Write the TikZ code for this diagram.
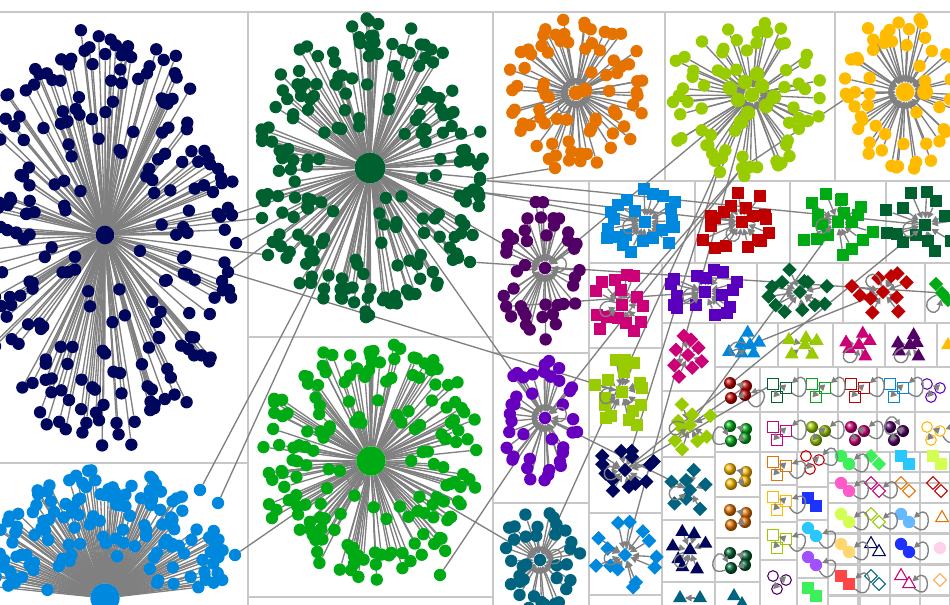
\documentclass[tikz,border=0pt]{standalone}
\usetikzlibrary{arrows.meta,shapes.geometric}
\definecolor{NavyDot}{RGB}{0,6,92}
\definecolor{PineDot}{RGB}{0,96,48}
\definecolor{LeafDot}{RGB}{0,170,20}
\definecolor{SkyDot}{RGB}{0,136,222}
\definecolor{OrangeDot}{RGB}{230,115,0}
\definecolor{LimeDot}{RGB}{153,204,0}
\definecolor{GoldDot}{RGB}{255,187,0}
\definecolor{PlumDot}{RGB}{82,0,102}
\definecolor{VioletDot}{RGB}{102,0,190}
\definecolor{TealDot}{RGB}{0,100,128}
\definecolor{RedDot}{RGB}{192,0,0}
\definecolor{MagentaDot}{RGB}{204,0,119}
\definecolor{IndigoDot}{RGB}{88,0,190}
\definecolor{PinkDot}{RGB}{255,90,200}
\definecolor{CyanDot}{RGB}{40,200,255}
\definecolor{BlueDot}{RGB}{30,50,255}
\definecolor{MintDot}{RGB}{60,240,90}
\definecolor{LightLime}{RGB}{210,255,80}
\definecolor{SandDot}{RGB}{255,215,110}
\definecolor{LavDot}{RGB}{160,80,255}
\definecolor{SalmonDot}{RGB}{255,70,70}
\definecolor{PaleBlue}{RGB}{100,185,255}
\definecolor{BlushDot}{RGB}{255,210,235}
\definecolor{PeachDot}{RGB}{255,170,80}
\definecolor{EdgeGray}{RGB}{128,128,128}
\definecolor{GridGray}{RGB}{200,200,200}
\pgfdeclarelayer{bg}
\pgfsetlayers{bg,main}
\tikzset{
  dot/.style={circle,inner sep=0pt,minimum size=9.3pt,fill=#1},
  sq/.style={rectangle,inner sep=0pt,minimum size=9pt,fill=#1},
  dia/.style={diamond,inner sep=0pt,minimum size=11pt,fill=#1},
  tri/.style={regular polygon,regular polygon sides=3,inner sep=0pt,minimum size=12pt,fill=#1},
  ball/.style={circle,inner sep=0pt,minimum size=9pt,ball color=#1},
  osq/.style={rectangle,inner sep=0pt,minimum size=8pt,draw=#1,line width=0.8pt},
  ocirc/.style={circle,inner sep=0pt,minimum size=8pt,draw=#1,line width=0.8pt},
  odia/.style={diamond,inner sep=0pt,minimum size=10pt,draw=#1,line width=0.8pt},
  otri/.style={regular polygon,regular polygon sides=3,inner sep=0pt,minimum size=11pt,draw=#1,line width=0.8pt},
  link/.style={draw=EdgeGray,line width=1pt},
  arr/.style={link,-{Triangle[length=5pt,width=5pt]}},
  selfloop/.style={link,-{Triangle[length=4.5pt,width=4.5pt]},min distance=18pt},
  cell/.style={draw=GridGray,line width=0.8pt}
}
% nodes spread round hub (#1h): name, cx, cy, rx, ry, count, node style, seed
\newcommand{\blob}[8]{%
  \pgfmathsetseed{#8}%
  \foreach \i in {1,...,#6}{%
    \pgfmathsetmacro{\ang}{360*mod(\i*0.381966,1)+16*rnd}%
    \pgfmathsetmacro{\rr}{0.18+0.82*rnd^0.42}%
    \node[#7] (#1\i) at ({#2+#4*\rr*cos(\ang)},{#3+#5*\rr*sin(\ang)}) {};%
  }%
}
% spokes from every node of a group to its hub
\newcommand{\spokes}[3]{%
  \foreach \i in {1,...,#2} \draw[#3] (#1\i) -- (#1h);}
% small groups of two, three and four
\newcommand{\twin}[4]{%
  \node[#4] (#1a) at (#2-4,#3-4) {};
  \node[#4] (#1b) at (#2+4,#3+4) {};}
\newcommand{\trio}[4]{%
  \node[#4] (#1a) at (#2-6,#3-6) {};
  \node[#4] (#1b) at (#2+7,#3-2) {};
  \node[#4] (#1c) at (#2-2,#3+7) {};
  \draw[arr] (#1b) -- (#1a);
  \draw[arr] (#1c) -- (#1a);}
\newcommand{\quartet}[4]{%
  \node[#4] (#1a) at (#2-8,#3-7) {};
  \node[#4] (#1b) at (#2+8,#3-4) {};
  \node[#4] (#1c) at (#2-7,#3+8) {};
  \node[#4] (#1d) at (#2+7,#3+5) {};
  \draw[arr] (#1b) -- (#1a);
  \draw[arr] (#1d) -- (#1c);}

\begin{document}
\begin{tikzpicture}[x=0.75pt,y=-0.75pt]
\useasboundingbox (0,0) rectangle (950,604);

% big stars
\node[dot=NavyDot,minimum size=14pt] (nvh) at (105,235) {};
\blob{nv}{105}{235}{132}{214}{230}{dot=NavyDot}{11}
\node[dot=PineDot,minimum size=23pt] (pnh) at (370,168) {};
\blob{pn}{370}{168}{115}{150}{200}{dot=PineDot}{23}
\node[dot=LeafDot,minimum size=22pt] (lfh) at (371,461) {};
\blob{lf}{371}{461}{115}{120}{170}{dot=LeafDot}{37}
\node[dot=SkyDot,minimum size=22pt] (skh) at (105,598) {};
\pgfmathsetseed{41}
\foreach \i in {1,...,140}{
  \pgfmathsetmacro{\ang}{185+170*mod(\i*0.618034,1)}
  \pgfmathsetmacro{\rr}{0.3+0.7*rnd^0.5}
  \node[dot=SkyDot] (sk\i) at ({105+128*\rr*cos(\ang)},{598+130*\rr*sin(\ang)}) {};
}

% medium stars
\node[dot=OrangeDot,minimum size=11pt] (orh) at (576,93) {};
\node[dot=OrangeDot,minimum size=11pt] (or0) at (585,90) {};
\blob{or}{578}{93}{72}{75}{75}{dot=OrangeDot}{53}
\node[dot=LimeDot,minimum size=11pt] (lmh) at (752,95) {};
\foreach \p [count=\k] in {(745,82),(762,86),(738,100),(748,113),(766,106),(741,122),(774,97),(757,74),(730,88)}
  \node[dot=LimeDot,minimum size=11pt] (lmc\k) at \p {};
\blob{lm}{745}{100}{80}{80}{62}{dot=LimeDot}{61}
\node[dot=GoldDot,minimum size=14pt] (gdh) at (905,92) {};
\node[dot=GoldDot,minimum size=12pt] (gd0) at (925,92) {};
\blob{gd}{900}{92}{65}{80}{55}{dot=GoldDot}{71}
\node[dot=PlumDot] (plh) at (545,268) {};
\blob{pl}{540}{270}{40}{75}{40}{dot=PlumDot}{83}
\node[dot=VioletDot] (vih) at (545,418) {};
\blob{vi}{540}{420}{38}{62}{38}{dot=VioletDot}{89}
\node[dot=TealDot] (tlh) at (540,560) {};
\blob{tl}{540}{560}{42}{52}{35}{dot=TealDot}{97}

% square, diamond and triangle groups
\node[sq=SkyDot] (bsh) at (645,222) {};
\blob{bs}{641}{222}{45}{34}{22}{sq=SkyDot}{101}
\node[sq=RedDot] (rsh) at (742,222) {};
\blob{rs}{740}{222}{44}{34}{18}{sq=RedDot}{103}
\node[sq=LeafDot] (gsh) at (838,222) {};
\blob{gs}{838}{222}{44}{34}{18}{sq=LeafDot}{107}
\node[sq=PineDot] (dsh) at (925,225) {};
\blob{ds}{922}{222}{38}{34}{14}{sq=PineDot}{109}
\node[sq=MagentaDot] (msh) at (622,305) {};
\blob{ms}{622}{305}{30}{38}{15}{sq=MagentaDot}{113}
\node[sq=IndigoDot] (ish) at (705,292) {};
\blob{is}{706}{292}{42}{24}{16}{sq=IndigoDot}{127}
\node[dia=PineDot] (pdh) at (800,292) {};
\blob{pd}{800}{292}{36}{24}{12}{dia=PineDot}{131}
\node[dia=RedDot] (rdh) at (883,292) {};
\blob{rd}{883}{292}{34}{24}{10}{dia=RedDot}{137}
\node[dia=LeafDot] (gdd) at (942,293) {};
\node[dia=LeafDot] (gdd1) at (936,284) {};
\node[dia=LeafDot] (gdd2) at (948,300) {};
\node[sq=LimeDot] (lsh) at (622,392) {};
\blob{ls}{622}{392}{30}{38}{16}{sq=LimeDot}{139}
\node[dia=MagentaDot] (mdh) at (688,355) {};
\blob{md}{688}{355}{20}{25}{8}{dia=MagentaDot}{149}
\node[dia=LimeDot] (ldh) at (690,425) {};
\blob{ld}{690}{425}{22}{27}{9}{dia=LimeDot}{151}
\node[dia=NavyDot] (ndh) at (625,470) {};
\blob{nd}{625}{470}{30}{30}{13}{dia=NavyDot}{157}
\node[dia=SkyDot] (bdh) at (625,555) {};
\blob{bd}{625}{555}{32}{34}{13}{dia=SkyDot}{163}
\node[dia=TealDot] (tdh) at (690,490) {};
\blob{td}{690}{490}{20}{22}{7}{dia=TealDot}{167}
\node[tri=NavyDot] (nth) at (690,550) {};
\blob{nt}{690}{550}{20}{22}{7}{tri=NavyDot}{173}
\node[tri=TealDot] (tth) at (680,598) {};
\node[tri=TealDot] (tt1) at (700,598) {};
\node[tri=SkyDot] (bth) at (750,345) {};
\blob{bt}{746}{345}{22}{14}{6}{tri=SkyDot}{179}
\node[tri=LimeDot] (lth) at (805,345) {};
\blob{lt}{805}{345}{18}{14}{5}{tri=LimeDot}{181}
\node[tri=MagentaDot] (mth) at (859,345) {};
\blob{mt}{859}{345}{18}{14}{5}{tri=MagentaDot}{191}
\node[tri=PlumDot] (pth) at (910,345) {};
\blob{pt}{910}{345}{18}{14}{5}{tri=PlumDot}{193}
\node[tri=GoldDot] (oth) at (948,345) {};

% little groups
\quartet{rb}{738}{390}{ball=RedDot}
\trio{gq}{779}{390}{osq=PineDot}
\trio{lq}{818}{390}{osq=LeafDot}
\trio{rq}{857}{390}{osq=RedDot}
\trio{bq}{896}{390}{osq=SkyDot}
\trio{vc}{933}{390}{ocirc=VioletDot}
\quartet{gb}{738}{433}{ball=LeafDot}
\trio{mq}{779}{433}{osq=MagentaDot}
\trio{yb}{818}{433}{ball=LimeDot}
\trio{mb}{857}{433}{ball=MagentaDot}
\trio{pb}{896}{433}{ball=PlumDot}
\trio{oc}{933}{433}{ocirc=GoldDot}
\quartet{ob}{738}{476}{ball=GoldDot}
\quartet{ab}{738}{517}{ball=OrangeDot}
\quartet{db}{738}{560}{ball=PineDot}
\twin{tt}{738}{600}{tri=TealDot}
\trio{oq}{779}{468}{osq=OrangeDot}
\trio{yq}{779}{503}{osq=GoldDot}
\trio{lq2}{779}{541}{osq=LimeDot}
\trio{pc}{779}{582}{ocirc=PlumDot}
\trio{rc}{812}{462}{ocirc=RedDot}
\twin{bbx}{812}{502}{sq=BlueDot}
\twin{cb}{812}{532}{dot=CyanDot}
\twin{lb}{812}{561}{dot=LavDot}
\twin{ms2}{812}{592}{sq=MintDot}
\twin{mn}{845}{460}{dot=MintDot}
\twin{pk}{845}{487}{dot=PinkDot}
\twin{ll}{845}{518}{dot=LightLime}
\twin{sd}{845}{548}{dot=SandDot}
\twin{sm}{845}{580}{sq=SalmonDot}
\twin{md2}{875}{460}{dia=MintDot}
\twin{mo}{875}{487}{odia=MagentaDot}
\twin{lo}{875}{518}{odia=LimeDot}
\twin{no}{875}{548}{otri=NavyDot}
\twin{to}{875}{580}{odia=TealDot}
\twin{cs}{905}{460}{sq=CyanDot}
\twin{oo}{905}{487}{odia=OrangeDot}
\twin{pbl}{905}{518}{dot=PaleBlue}
\twin{bl}{905}{548}{dot=BlueDot}
\twin{mtr}{905}{580}{otri=MagentaDot}
\twin{lsq}{937}{460}{sq=LightLime}
\twin{ro}{937}{487}{odia=RedDot}
\node[otri=OrangeDot] (ot1) at (942,518) {};
\node[dot=BlushDot] (bh1) at (940,548) {};
\node[odia=PeachDot] (po1) at (940,580) {};

% self loops
\foreach \n/\o/\j in {gqb/-40/40, lqb/-40/40, rqb/-40/40, bqb/-40/40, mqb/-40/40, ybb/-40/40,
    mbb/-40/40, pbb/200/120, ocb/-60/20, oqb/-60/20, yqb/-60/20, lq2b/-60/20, rcb/-30/50,
    cbb/-60/20, lbb/-60/20, mnb/-40/40, pkb/-40/40, llb/-40/40, sdb/-40/40, smb/-40/40,
    mob/-40/40, lob/-40/40, blb/-40/40, pblb/-40/40, mtrb/-40/40, rbd/-60/20, gbc/200/120,
    dbc/200/120, bsh/160/220, rsh/200/260, gsh/160/220, dsh/160/220, ish/160/220,
    msh/160/220, lsh/160/220, ldh/160/220, bth/160/220, pth/200/260, rdh/100/160,
    gdd/200/260, ndh/160/220, bdh/160/220, nth/200/260, tdh/160/220, mth/200/260,
    plh/-20/40, vih/-20/40, tlh/-20/40, lfh/200/250, orh/200/250}
  \draw[selfloop] (\n) to[out=\o,in=\j] (\n);

% nodes that carry lines between groups
\node[dot=NavyDot] (nvb1) at (232,215) {};
\node[dot=NavyDot] (nvb2) at (236,243) {};
\node[dot=NavyDot] (nvb3) at (228,272) {};
\node[dot=PineDot] (pnb1) at (262,218) {};
\node[dot=PineDot] (pnb2) at (268,255) {};
\node[dot=PineDot] (pnb3) at (480,180) {};
\node[dot=PineDot] (pnb4) at (478,192) {};
\node[dot=PineDot] (pnb5) at (470,262) {};
\node[dot=OrangeDot] (orb1) at (555,168) {};
\node[dot=LimeDot] (lmb1) at (742,168) {};
\node[dot=LimeDot] (lmb2) at (722,158) {};
\node[dot=GoldDot] (gdb1) at (848,97) {};
\node[dot=SkyDot] (skb1) at (200,490) {};
\node[dot=SkyDot] (skb2) at (218,503) {};
\node[dot=SkyDot] (skb3) at (235,555) {};
\node[dot=LeafDot] (lfb1) at (440,575) {};

\begin{pgfonlayer}{bg}
  \fill[white] (0,0) rectangle (950,604);
  % grid of groups
  \draw[cell] (-5,12) -- (955,12);
  \foreach \a/\b/\c/\d in {-5/12/248/463, -5/463/248/610, 248/12/493/337, 248/337/493/597,
      493/12/665/181, 665/12/835/181, 835/12/955/181,
      493/181/589/353, 493/353/589/503, 493/503/589/610,
      589/181/695/263, 695/181/790/263, 790/181/886/263, 886/181/955/263,
      589/263/662/348, 662/263/757/323, 757/263/843/323, 843/263/925/323, 925/263/955/323,
      589/348/662/437, 662/323/715/391, 662/391/715/457, 589/437/662/513, 589/513/662/595,
      662/457/715/520, 662/520/715/582, 662/582/715/610,
      715/323/778/367, 778/323/833/367, 833/323/885/367, 885/323/937/367, 937/323/955/367,
      715/367/760/412, 760/367/798/412, 798/367/838/412, 838/367/877/412, 877/367/915/412, 915/367/955/412,
      715/412/760/452, 760/412/798/452, 798/412/838/452, 838/412/877/452, 877/412/915/452, 915/412/955/452,
      715/452/760/497, 715/497/760/538, 715/538/760/582, 715/582/760/610,
      760/452/797/485, 760/485/797/522, 760/522/797/560, 760/560/797/610,
      797/452/828/487, 797/487/828/520, 797/520/828/548, 797/548/828/578, 797/578/828/610}
    \draw[cell] (\a,\b) rectangle (\c,\d);
  \foreach \a in {828,860,890,920}
    \foreach \b in {452,472,503,533,565,595}
      \draw[cell] (\a,\b) rectangle (\a+30,\b+31);
  % spokes
  \spokes{nv}{230}{link}
  \spokes{pn}{200}{link}
  \spokes{lf}{170}{link}
  \spokes{sk}{140}{link}
  \spokes{or}{75}{arr}
  \spokes{lm}{62}{arr}
  \spokes{gd}{55}{arr}
  \spokes{pl}{40}{arr}
  \spokes{vi}{38}{arr}
  \spokes{tl}{35}{arr}
  \spokes{bs}{22}{arr}
  \spokes{rs}{18}{arr}
  \spokes{gs}{18}{arr}
  \spokes{ds}{14}{arr}
  \spokes{ms}{15}{arr}
  \spokes{is}{16}{arr}
  \spokes{pd}{12}{arr}
  \spokes{rd}{10}{arr}
  \spokes{ls}{16}{arr}
  \spokes{md}{8}{arr}
  \spokes{ld}{9}{arr}
  \spokes{nd}{13}{arr}
  \spokes{bd}{13}{arr}
  \spokes{td}{7}{arr}
  \spokes{nt}{7}{arr}
  \spokes{bt}{6}{arr}
  \spokes{lt}{5}{arr}
  \spokes{mt}{5}{arr}
  \spokes{pt}{5}{arr}
  \foreach \k in {1,...,9} \draw[arr] (lmc\k) -- (lmh);
  \draw[arr] (or0) -- (orh);
  \draw[arr] (gd0) -- (gdh);
  \draw[arr] (gdd1) -- (gdd); \draw[arr] (gdd2) -- (gdd);
  \draw[arr] (tt1) -- (tth);
  % lines between groups
  \foreach \s/\t in {pnh/nvb1, pnh/nvb2, pnh/nvb3, nvh/pnb1, nvh/pnb2, pnb3/dsh, pnb4/rsh,
      pnb4/bsh, pnb5/gdd, orb1/pnb3, pnh/plh, gdb1/lmb1, lmb1/vih, lmb2/tlh, lmb2/ndh,
      lmh/bdh, lmb1/msh, lmh/plh, dsh/ndh, gsh/ldh, rdh/bth, skb1/pnh, skb2/pnh,
      skb3/lfh, vih/lfb1, pnh/vih, tlh/lfh, lsh/nvb3, rbb/ldh, gqa/ndh, ish/pl1, vih/tdh}
    \draw[link] (\s) -- (\t);
\end{pgfonlayer}
\end{tikzpicture}
\end{document}
